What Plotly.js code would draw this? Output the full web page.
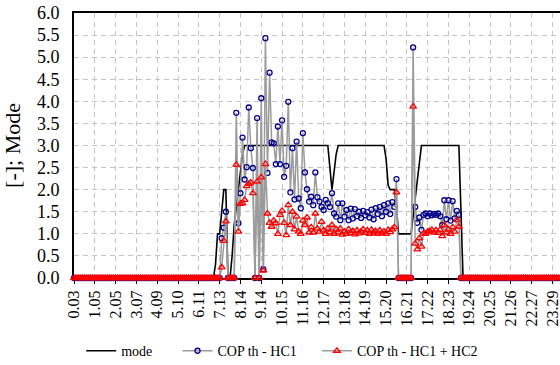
<!DOCTYPE html>
<html>
<head>
<meta charset="utf-8">
<script src="https://cdn.plot.ly/plotly-3.0.1.min.js"></script>
<style>html,body{margin:0;padding:0;background:#fff;}#chart{width:560px;height:365px;}</style>
</head>
<body>
<div id="chart"></div>
<script>
// tick labels (time of day, h.mm), one every 10 samples
var tickLabels = ["0.03","1.05","2.05","3.07","4.09","5.10","6.11","7.13","8.14","9.14","10.15","11.16","12.17","13.18","14.19","15.20","16.21","17.22","18.23","19.24","20.25","21.26","22.27","23.29"];
var samplesPerLabel = 10;

// mode
var mode = [
0,0,0,0,0,0,0,0,0,0, 0,0,0,0,0,0,0,0,0,0,
0,0,0,0,0,0,0,0,0,0, 0,0,0,0,0,0,0,0,0,0,
0,0,0,0,0,0,0,0,0,0, 0,0,0,0,0,0,0,0,0,0,
0,0,0,0,0,0,0,0,
0.3,1,1,1.5,2,2,0,0,0.5,1.2,1.6,2.0,2.4,2.8,3,
3,3,3,3,3,3,3,3,3,3, 3,3,3,3,3,3,3,3,3,3,
3,3,3,3,3,3,3,3,3,3, 3,3,3,3,3,3,3,3,3,3,
2.5,2,2.4,2.8,
3,3,3,3,3,3,3,3,3,3, 3,3,3,3,3,3,3,3,3,3, 3,3,3,
2.7,2.1,2,2,2,1.6,1,
1,1,1,1,1,1,
1.4,1.8,2.2,2.7,
3,3,3,3,3,3,3,3,3,3, 3,3,3,3,3,3,3,3,3,
1.5,
0,0,0,0,0,0,0,0,0,0, 0,0,0,0,0,0,0,0,0,0,
0,0,0,0,0,0,0,0,0,0, 0,0,0,0,0,0,0,0,0,0,
0,0,0,0,0,0,0,0,0
];

// COP th - HC1
var copHC1 = [
0,0,0,0,0,0,0,0,0,0, 0,0,0,0,0,0,0,0,0,0,
0,0,0,0,0,0,0,0,0,0, 0,0,0,0,0,0,0,0,0,0,
0,0,0,0,0,0,0,0,0,0, 0,0,0,0,0,0,0,0,0,0,
0,0,0,0,0,0,0,0,0,0, 0,
0.90,1.14,1.50,
0,0,0,0,
3.74,1.24,1.92,3.18,2.23,2.51,3.86,2.94,2.49,
0,3.62,0,
4.07,0.20,5.43,2.38,4.65,3.07,3.05,2.58,3.43,2.58,
3.57,2.29,2.54,3.99,1.94,2.94,1.78,3.09,1.80,1.58,
3.28,2.39,2.01,1.73,1.84,1.65,2.39,1.83,1.73,1.61,
1.54,1.77,1.69,1.61,1.92,1.46,1.39,1.69,1.31,1.69,
1.39,1.54,1.31,1.57,1.35,1.56,1.40,1.50,1.36,1.52,
1.42,1.49,1.37,1.55,1.33,1.58,1.45,1.61,1.40,1.65,
1.50,1.69,1.45,1.72,1.61,2.24,
0,0,0,0,0,0,0,
5.22,
1.61,1.25,1.37,1.09,1.43,1.46,1.40,1.46,1.42,1.45,
1.43,1.46,1.40,1.20,1.76,1.33,1.76,1.30,1.74,1.35,1.52,1.43,
0,0,0,0,0,0,0,0,0,0, 0,0,0,0,0,0,0,0,0,0,
0,0,0,0,0,0,0,0,0,0, 0,0,0,0,0,0,0,0,0,0,
0,0,0,0,0,0,0,0,0,0
];

// COP th - HC1 + HC2
var copHC12 = [
0,0,0,0,0,0,0,0,0,0, 0,0,0,0,0,0,0,0,0,0,
0,0,0,0,0,0,0,0,0,0, 0,0,0,0,0,0,0,0,0,0,
0,0,0,0,0,0,0,0,0,0, 0,0,0,0,0,0,0,0,0,0,
0,0,0,0,0,0,0,0,0,0, 0,
0.24,0.84,1.28,
0,0,0,0,
2.56,1.05,1.68,1.69,1.77,2.08,2.13,2.16,1.92,
0,2.18,0,
2.28,0.17,2.58,1.46,1.25,1.16,1.30,1.24,1.00,1.43,
1.52,1.25,0.97,1.65,1.20,1.50,1.10,1.39,1.05,1.00,
1.30,1.20,1.37,1.03,1.15,1.03,1.46,1.12,1.05,1.27,
1.08,1.00,1.12,1.03,1.20,1.00,1.10,1.03,1.12,0.98,
1.05,1.00,1.10,1.02,1.06,0.99,1.08,1.01,1.05,1.10,
1.02,1.08,1.00,1.09,1.03,1.06,1.00,1.08,1.02,1.05,
1.00,1.09,1.04,1.10,1.15,1.94,
0,0,0,0,0,0,0,
3.88,
0.78,0.65,0.90,0.71,1.01,1.00,1.05,1.06,1.09,1.03,
1.08,1.02,1.09,0.95,1.20,1.03,1.10,1.00,1.15,1.05,1.31,1.16,
0,0,0,0,0,0,0,0,0,0, 0,0,0,0,0,0,0,0,0,0,
0,0,0,0,0,0,0,0,0,0, 0,0,0,0,0,0,0,0,0,0,
0,0,0,0,0,0,0,0,0,0
];

var xs = [];
for (var i = 0; i < mode.length; i++) xs.push(i);
var tickVals = [];
for (var k = 0; k < tickLabels.length; k++) tickVals.push(k * samplesPerLabel);

var FONT = "'Liberation Serif', 'Times New Roman', serif";
var grayLine = 'rgb(155,155,155)';

var traces = [
  {x: xs, y: mode, type: 'scatter', mode: 'lines', name: 'mode', legend: 'legend',
   line: {color: '#000000', width: 1.6}, cliponaxis: false},
  {x: xs, y: copHC1, type: 'scatter', mode: 'lines+markers', name: 'COP th - HC1', legend: 'legend2',
   line: {color: grayLine, width: 1.5},
   marker: {symbol: 'circle-open', size: 5, color: '#000090', line: {width: 1.3, color: '#000090'}},
   cliponaxis: false},
  {x: xs, y: copHC12, type: 'scatter', mode: 'lines+markers', name: 'COP th - HC1 + HC2', legend: 'legend3',
   line: {color: grayLine, width: 1.5},
   marker: {symbol: 'triangle-up-open', size: 6, color: '#ff0000', line: {width: 1.3, color: '#ff0000'}},
   cliponaxis: false}
];

function leg(x) {
  return {orientation: 'h', x: x, xref: 'container', xanchor: 'left',
          y: 0.038, yref: 'container', yanchor: 'middle',
          font: {family: FONT, size: 14, color: '#000'}, bgcolor: 'rgba(0,0,0,0)',
          borderwidth: 0};
}

var layout = {
  width: 560, height: 365,
  margin: {l: 74, r: 0, t: 13, b: 87},
  paper_bgcolor: '#ffffff', plot_bgcolor: '#ffffff',
  font: {family: FONT, size: 16, color: '#000000'},
  showlegend: true,
  legend: leg(0.145),
  legend2: leg(0.317),
  legend3: leg(0.566),
  xaxis: {
    range: [0, 233.6], tickmode: 'array', tickvals: tickVals, ticktext: tickLabels,
    tickangle: -90, tickfont: {family: FONT, size: 16, color: '#000'}, ticklabeloverflow: 'allow',
    showgrid: true, gridcolor: '#c4c4c4', griddash: '5px,4px', gridwidth: 1,
    showline: true, linecolor: '#000', linewidth: 2, mirror: true,
    ticks: 'outside', ticklen: 4, tickcolor: '#000', tickwidth: 1,
    zeroline: false, layer: 'below traces', automargin: false
  },
  yaxis: {
    range: [0, 6], dtick: 0.5, tick0: 0, tickformat: '.1f',
    tickfont: {family: FONT, size: 18, color: '#000'}, ticklabelstandoff: 9,
    title: {text: '[-]; Mode', font: {family: FONT, size: 22}, standoff: 11},
    showgrid: true, gridcolor: '#c4c4c4', griddash: '5px,4px', gridwidth: 1,
    showline: true, linecolor: '#000', linewidth: 2,
    ticks: '', zeroline: false, layer: 'below traces', automargin: false
  }
};

Plotly.newPlot('chart', traces, layout, {staticPlot: true, displayModeBar: false});
</script>
</body>
</html>
